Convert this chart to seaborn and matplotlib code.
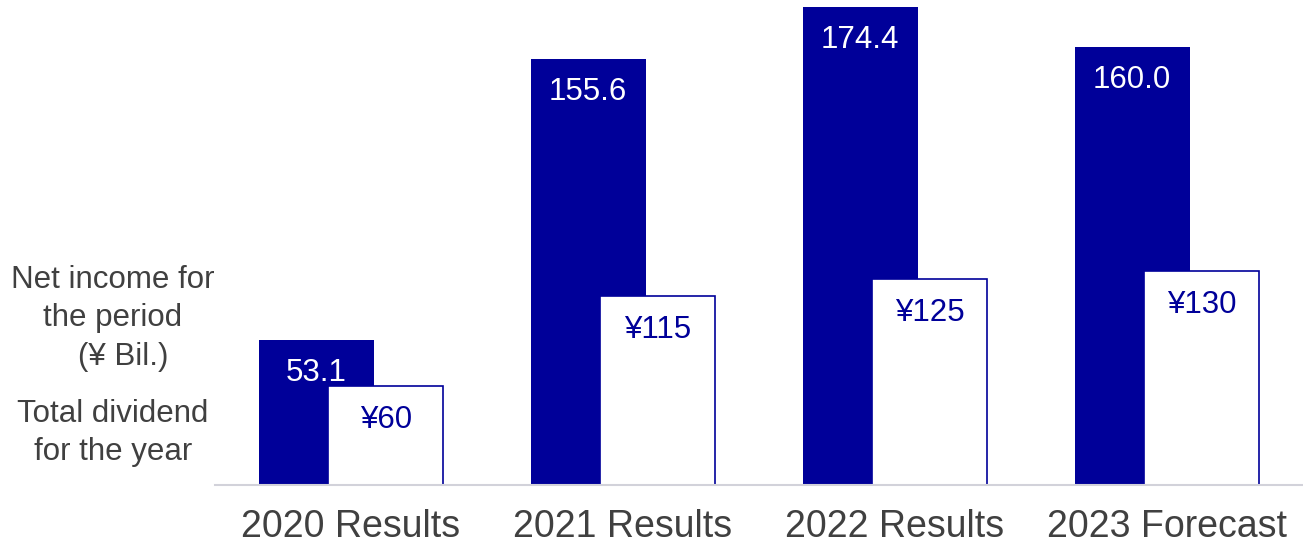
import matplotlib
matplotlib.use("Agg")
import matplotlib.pyplot as plt
import seaborn as sns
import pandas as pd

# values
periods = ["2020 Results", "2021 Results", "2022 Results", "2023 Forecast"]
net_income = [53.1, 155.6, 174.4, 160.0]          # ¥ Bil.
dividend = [60, 115, 125, 130]                    # ¥ per share
income_labels = ["53.1", "155.6", "174.4", "160.0"]
dividend_labels = ["¥60", "¥115", "¥125", "¥130"]

navy = "#000099"
grey_text = "#404040"
base_grey = "#d2d2da"

sns.set_theme(style="white")
plt.rcParams["font.family"] = ["Liberation Sans", "DejaVu Sans"]

df = pd.DataFrame({"period": periods, "income": net_income, "dividend": dividend})

W, H = 1303, 546
fig = plt.figure(figsize=(W / 100, H / 100), dpi=100)
ax = fig.add_axes([215 / W, 61 / H, 1 - 215 / W, 485 / H])
ax2 = ax.twinx()

bw = 0.422
shift = 0.128

sns.barplot(data=df, x="period", y="income", color=navy, saturation=1,
            width=bw, errorbar=None, linewidth=0, ax=ax)
sns.barplot(data=df, x="period", y="dividend", color="white", saturation=1,
            width=bw, errorbar=None, edgecolor=navy, linewidth=1.2, ax=ax2)

for p in ax.patches:
    p.set_x(p.get_x() - shift)
for p in ax2.patches:
    p.set_x(p.get_x() + shift)

ax.set_xlim(-0.5, 3.5)
ax.set_ylim(0, 177)
ax2.set_ylim(0, 294.5)

# value labels inside the bars
for p, lab in zip(ax.patches, income_labels):
    ax.annotate(lab, (p.get_x() + p.get_width() / 2, p.get_height()),
                xytext=(0, -24), textcoords="offset points",
                ha="center", va="center", color="white", fontsize=22.5)
for p, lab in zip(ax2.patches, dividend_labels):
    ax2.annotate(lab, (p.get_x() + p.get_width() / 2, p.get_height()),
                 xytext=(0, -24.5), textcoords="offset points",
                 ha="center", va="center", color=navy, fontsize=22.5)

ax.set_xlabel("")
ax.set_ylabel("")
ax2.set_ylabel("")
ax.set_yticks([])
ax2.set_yticks([])
ax.tick_params(axis="x", length=0, pad=17, labelsize=27, labelcolor=grey_text)

for s in ax.spines.values():
    s.set_visible(False)
for name, s in ax2.spines.items():
    s.set_visible(name == "bottom")
ax2.spines["bottom"].set_color(base_grey)
ax2.spines["bottom"].set_linewidth(1.5)

# left-hand legend text
left_lines = [("Net income for", 113, 280), ("the period", 113, 318),
              ("(¥ Bil.)", 123, 357), ("Total dividend", 113, 414),
              ("for the year", 113, 452)]
for txt, x, y in left_lines:
    fig.text(x / W, 1 - y / H, txt, ha="center", va="center",
             fontsize=22.5, color=grey_text)

fig.savefig("out.png", dpi=100)
